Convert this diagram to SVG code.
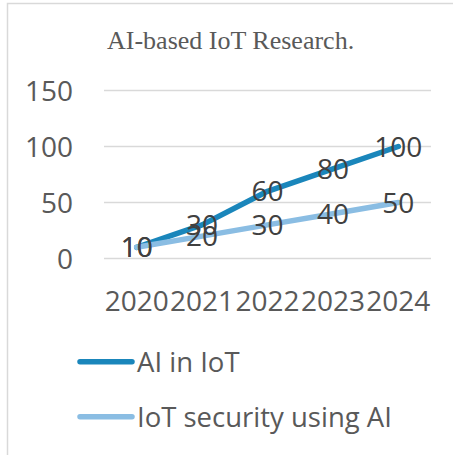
<svg xmlns="http://www.w3.org/2000/svg" width="453" height="455" viewBox="0 0 453 455">
  <style>
    .frame { fill: none; stroke: #d9d9d9; stroke-width: 1.5; }
    .grid { stroke: #d9d9d9; stroke-width: 1.3; }
    .title { font-family: "Liberation Serif", "Times New Roman", serif; font-size: 26px; fill: #595959; }
    .axis { font-family: "Open Sans", "Noto Sans", sans-serif; font-size: 28px; fill: #595959; }
    .ylab { text-anchor: end; }
    .xlab { text-anchor: middle; }
    .dlab { font-family: "Open Sans", "Noto Sans", sans-serif; font-size: 28px; fill: #404040; text-anchor: middle; }
    .series { fill: none; stroke-width: 5.5; stroke-linecap: round; stroke-linejoin: round; }
    .s1 { stroke: #1a86bb; }
    .s2 { stroke: #8abde3; }
    .legend { font-family: "Open Sans", "Noto Sans", sans-serif; font-size: 27.5px; fill: #595959; }
  </style>

  <rect width="453" height="455" fill="#ffffff"/>
  <!-- chart area border (top and left edges visible) -->
  <path class="frame" d="M7.5,455 V3.5 H453"/>

  <!-- title -->
  <text class="title" x="107" y="49">AI-based IoT Research.</text>

  <!-- value axis gridlines and labels -->
  <g id="value-axis">
    <line class="grid" x1="104" y1="90.5" x2="431" y2="90.5"/>
    <line class="grid" x1="104" y1="146.5" x2="431" y2="146.5"/>
    <line class="grid" x1="104" y1="202.5" x2="431" y2="202.5"/>
    <line class="grid" x1="104" y1="258.5" x2="431" y2="258.5"/>
    <text class="axis ylab" x="73" y="100.5">150</text>
    <text class="axis ylab" x="73" y="156.5">100</text>
    <text class="axis ylab" x="73" y="212.5">50</text>
    <text class="axis ylab" x="73" y="268.5">0</text>
  </g>

  <!-- category axis labels -->
  <g id="category-axis">
    <text class="axis xlab" x="136.7" y="310.5">2020</text>
    <text class="axis xlab" x="202.1" y="310.5">2021</text>
    <text class="axis xlab" x="267.5" y="310.5">2022</text>
    <text class="axis xlab" x="332.9" y="310.5">2023</text>
    <text class="axis xlab" x="398.3" y="310.5">2024</text>
  </g>

  <!-- series lines -->
  <g id="connectors">
    <polyline class="series s1" points="136.7,247.3 202.1,224.9 267.5,191.3 332.9,168.9 398.3,146.5"/>
    <polyline class="series s2" points="136.7,247.3 202.1,236.1 267.5,224.9 332.9,213.7 398.3,202.5"/>
  </g>

  <!-- data labels -->
  <g id="labels-ai-in-iot">
    <text class="dlab" x="136.7" y="257.3">10</text>
    <text class="dlab" x="202.1" y="234.9">30</text>
    <text class="dlab" x="267.5" y="201.3">60</text>
    <text class="dlab" x="332.9" y="178.9">80</text>
    <text class="dlab" x="398.3" y="156.5">100</text>
  </g>
  <g id="labels-iot-security">
    <text class="dlab" x="136.7" y="257.3">10</text>
    <text class="dlab" x="202.1" y="246.1">20</text>
    <text class="dlab" x="267.5" y="234.9">30</text>
    <text class="dlab" x="332.9" y="223.7">40</text>
    <text class="dlab" x="398.3" y="212.5">50</text>
  </g>

  <!-- legend -->
  <g id="legend-ai-in-iot">
    <line class="series s1" x1="80" y1="361.7" x2="132" y2="361.7" stroke-width="4.5"/>
    <text class="legend" x="137" y="372">AI in IoT</text>
  </g>
  <g id="legend-iot-security">
    <line class="series s2" x1="80" y1="416.7" x2="132" y2="416.7" stroke-width="4.5"/>
    <text class="legend" x="137" y="426.7">IoT security using AI</text>
  </g>
</svg>
